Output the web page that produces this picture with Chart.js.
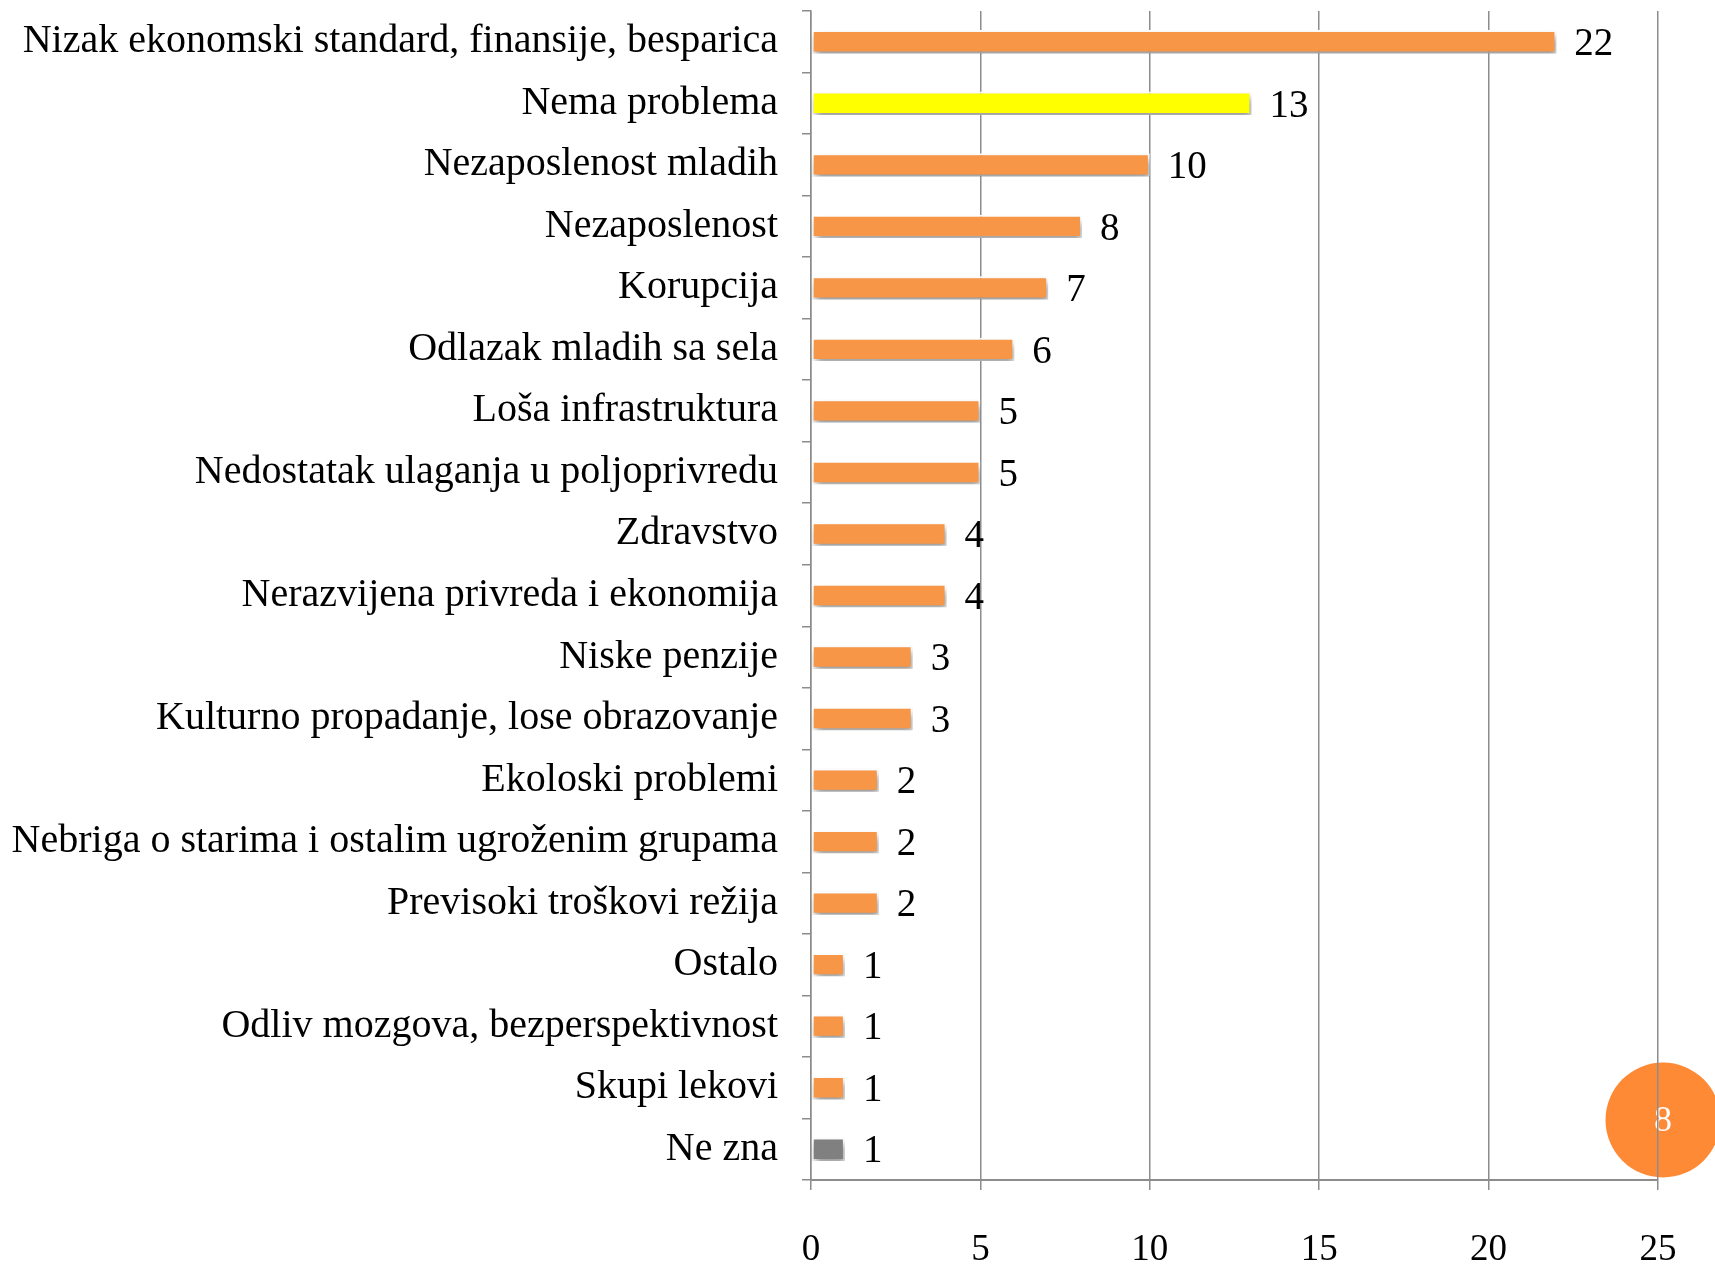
<!DOCTYPE html>
<html>
<head>
<meta charset="utf-8">
<script src="https://cdn.jsdelivr.net/npm/chart.js@4/dist/chart.umd.min.js"></script>
<style>
html,body{margin:0;padding:0;background:#fff;}
#wrap{width:1715px;height:1270px;position:relative;}
</style>
</head>
<body>
<div id="wrap"><canvas id="c" width="1715" height="1270"></canvas></div>
<script>
const categories = [
  "Nizak ekonomski standard, finansije, besparica",
  "Nema problema",
  "Nezaposlenost mladih",
  "Nezaposlenost",
  "Korupcija",
  "Odlazak mladih sa sela",
  "Loša infrastruktura",
  "Nedostatak ulaganja u poljoprivredu",
  "Zdravstvo",
  "Nerazvijena privreda i ekonomija",
  "Niske penzije",
  "Kulturno propadanje, lose obrazovanje",
  "Ekoloski problemi",
  "Nebriga o starima i ostalim ugroženim grupama",
  "Previsoki troškovi režija",
  "Ostalo",
  "Odliv mozgova, bezperspektivnost",
  "Skupi lekovi",
  "Ne zna"
];
const values = [22, 13, 10, 8, 7, 6, 5, 5, 4, 4, 3, 3, 2, 2, 2, 1, 1, 1, 1];
const xTicks = [0, 5, 10, 15, 20, 25];
const slideNumber = "8";

const ORANGE = "#F79646", YELLOW = "#FFFF00", GREY = "#808080";
const barColors = categories.map((c, i) => c === "Nema problema" ? YELLOW : (c === "Ne zna" ? GREY : ORANGE));
const FONT = "'Liberation Serif', 'Times New Roman', serif";

const slideBadge = {
  id: 'slideBadge',
  beforeDraw(chart) {
    const ctx = chart.ctx;
    ctx.save();
    ctx.fillStyle = "#FF8A36";
    ctx.beginPath();
    ctx.arc(1663, 1120, 57.5, 0, Math.PI * 2);
    ctx.fill();
    ctx.fillStyle = "#fff";
    ctx.font = "36px " + FONT;
    ctx.textAlign = "center";
    ctx.textBaseline = "middle";
    ctx.fillText(slideNumber, 1663, 1122);
    ctx.restore();
  }
};

const barShadow = {
  id: 'barShadow',
  beforeDatasetsDraw(chart) {
    const ctx = chart.ctx;
    ctx.save();
    ctx.shadowColor = "rgba(0,0,0,0.4)";
    ctx.shadowBlur = 7;
    ctx.shadowOffsetX = 2;
    ctx.shadowOffsetY = 5;
  },
  afterDatasetsDraw(chart) {
    chart.ctx.restore();
  }
};

const valueLabels = {
  id: 'valueLabels',
  afterDatasetsDraw(chart) {
    const ctx = chart.ctx;
    const meta = chart.getDatasetMeta(0);
    ctx.save();
    ctx.fillStyle = "#000";
    ctx.font = "39px " + FONT;
    ctx.textAlign = "left";
    ctx.textBaseline = "middle";
    meta.data.forEach((bar, i) => {
      ctx.fillText(String(values[i]), bar.x + 18, bar.y + 3);
    });
    ctx.restore();
  }
};

new Chart(document.getElementById('c'), {
  type: 'bar',
  data: {
    labels: categories,
    datasets: [{
      data: values,
      backgroundColor: barColors,
      borderColor: "#ffffff",
      borderWidth: 2,
      borderSkipped: false,
      categoryPercentage: 1,
      barPercentage: 0.38
    }]
  },
  options: {
    indexAxis: 'y',
    responsive: false,
    animation: false,
    events: [],
    layout: { padding: { top: 11, right: 57, left: 0, bottom: 0 } },
    plugins: { legend: { display: false }, tooltip: { enabled: false } },
    scales: {
      x: {
        min: 0, max: 25,
        afterBuildTicks(scale) { scale.ticks = xTicks.map(v => ({ value: v })); },
        afterFit(scale) { scale.height = 90; scale.paddingLeft = 0; scale.paddingRight = 0; },
        grid: { color: "#8c8c8c", lineWidth: 1.5, tickLength: 10, drawOnChartArea: true },
        border: { display: true, color: "#8c8c8c", width: 2 },
        ticks: { color: "#000", font: { family: FONT, size: 37 }, padding: 38, maxRotation: 0 }
      },
      y: {
        afterFit(scale) { scale.width = 811; scale.paddingTop = 0; scale.paddingBottom = 0; },
        grid: { offset: true, drawOnChartArea: false, drawTicks: true, tickLength: 9, color: "#8c8c8c", lineWidth: 1.5 },
        border: { display: true, color: "#8c8c8c", width: 1.5 },
        ticks: { color: "#000", font: { family: FONT, size: 40 }, padding: 24, autoSkip: false }
      }
    }
  },
  plugins: [slideBadge, barShadow, valueLabels]
});
</script>
</body>
</html>
